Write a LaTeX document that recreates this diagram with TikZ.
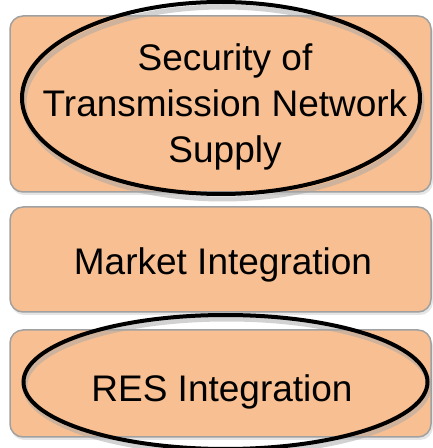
\documentclass[tikz,border=0pt]{standalone}
\usepackage{fontspec}
\setmainfont{Liberation Sans}
\usetikzlibrary{shapes.geometric}
\definecolor{peach}{RGB}{248,192,146}
\definecolor{boxedge}{RGB}{160,160,160}
\tikzset{
  box/.style={draw=boxedge, line width=1.5pt, fill=peach, rounded corners=13pt, inner sep=0pt},
  lbl/.style={font=\fontsize{37}{46}\selectfont, align=center, inner sep=0pt, text=black},
  ring/.style={draw=black, line width=4pt, ellipse, inner sep=0pt},
  ringshadow/.style={draw=black!35, line width=5pt, ellipse, inner sep=0pt, opacity=0.5}
}
\begin{document}
\begin{tikzpicture}[x=1pt,y=1pt]
\useasboundingbox (0,0) rectangle (432,448);
% box shadows
\fill[black!10, rounded corners=13pt] (11,253) rectangle (433,429);
\fill[black!10, rounded corners=13pt] (11,133) rectangle (433,238);
\fill[black!10, rounded corners=13pt] (11,8) rectangle (433,115);
% boxes
\node[box, minimum width=421pt, minimum height=176pt] (b1) at (220.5,344) {};
\node[box, minimum width=421pt, minimum height=105pt] (b2) at (220.5,188.5) {};
\node[box, minimum width=421pt, minimum height=107pt] (b3) at (220.5,64.5) {};
% ellipse shadows
\node[ringshadow, minimum width=398pt, minimum height=192pt] (s1) at (223,345) {};
\node[ringshadow, minimum width=404pt, minimum height=134pt] (s3) at (227,62) {};
% ellipses
\node[ring, minimum width=398pt, minimum height=192pt] (e1) at (221,350) {};
\node[ring, minimum width=404pt, minimum height=134pt] (e3) at (225.5,66) {};
% labels
\node[lbl] (t1) at (225,341) {Security of\\Transmission Network\\Supply};
\node[lbl] (t2) at (223,183) {Market Integration};
\node[lbl] (t3) at (222,56) {RES Integration};
\end{tikzpicture}
\end{document}
